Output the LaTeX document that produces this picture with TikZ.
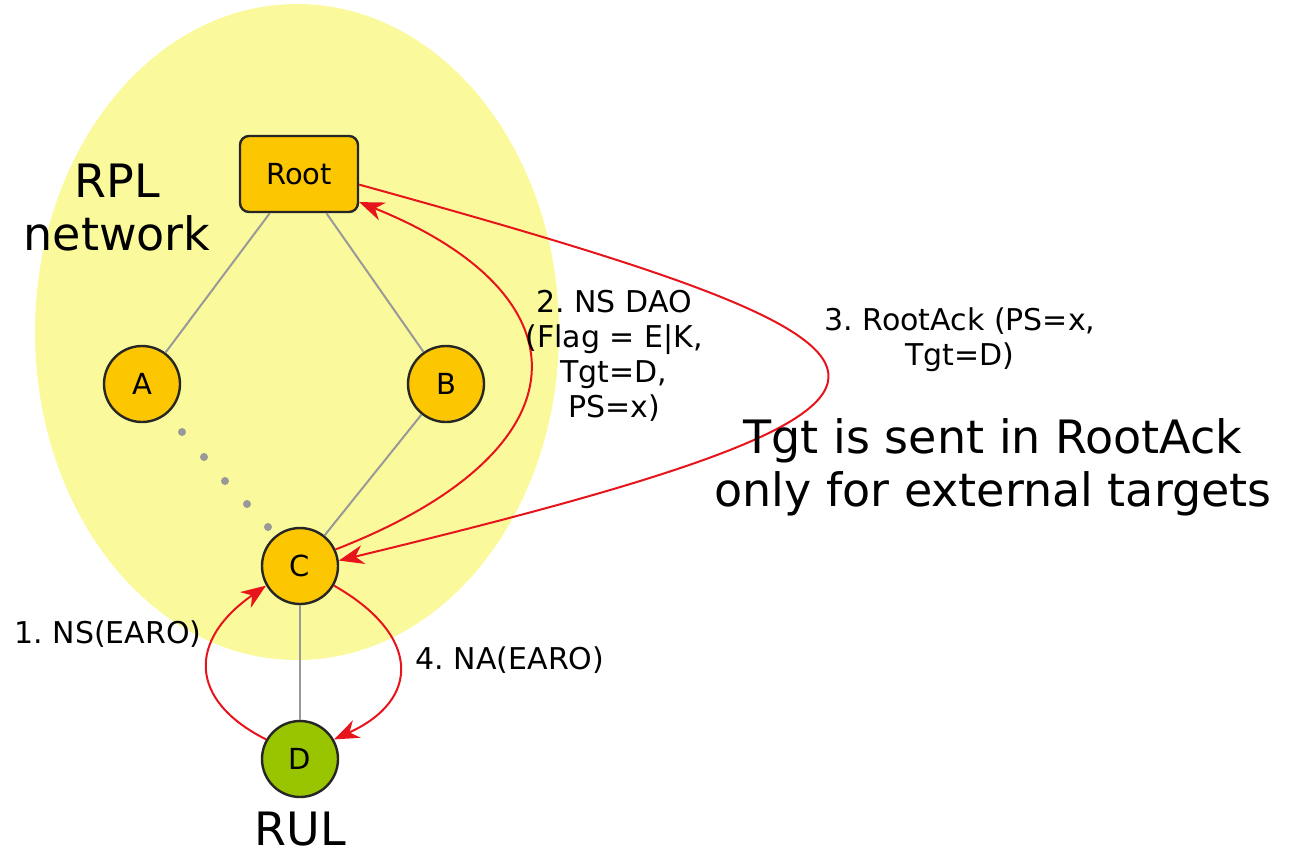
\documentclass[tikz,border=0pt]{standalone}
\usepackage{fontspec}
\setmainfont{DejaVu Sans}
\frenchspacing
\usetikzlibrary{arrows.meta}

\definecolor{netyellow}{HTML}{FAFA9C}
\definecolor{nodeorange}{HTML}{FCC700}
\definecolor{rulgreen}{HTML}{99C400}
\definecolor{msgred}{HTML}{E8141C}

\begin{document}
\begin{tikzpicture}[x=1pt,y=-1pt,thick,
    main node/.style={circle,draw=black!85,line width=2.4pt,fill=nodeorange,minimum size=76pt,inner sep=0pt,font=\fontsize{29}{34}\selectfont},
    root node/.style={rectangle,rounded corners=9pt,draw=black!85,line width=2.4pt,fill=nodeorange,minimum width=118pt,minimum height=76pt,font=\fontsize{29}{34}\selectfont},
    link/.style={draw=black!40,line width=2pt},
    msg/.style={draw=msgred,line width=2pt,-{Stealth[length=25pt,width=19pt,inset=8pt]}},
    lbl/.style={align=center,font=\fontsize{30}{35}\selectfont},
    big/.style={align=center,font=\fontsize{46}{53}\selectfont}]
    \useasboundingbox (0,0) rectangle (1301,855);

    % network area
    \fill[netyellow] (297,332) ellipse [x radius=262, y radius=328];

    \node[root node] (Root) at (299,174) {Root};
    \node[main node] (A) at (142,384) {A};
    \node[main node] (B) at (446,384) {B};
    \node[main node] (C) at (300,566) {C};
    \node[main node,fill=rulgreen] (D) at (300,759) {D};

    \path[link]
        (Root) edge (A)
        (Root) edge (B)
        (B) edge (C)
        (C) edge (D);
    % dotted path A ... C
    \foreach \dx/\dy in {182/432,204/457,225/481,247/504,268/527}
        \fill[black!40] (\dx,\dy) circle [radius=4pt];

    % messages
    \draw[msg] (D.150) .. controls (188,700) and (188,640) .. (C.210);
    \draw[msg] (C.25) .. controls (591,450) and (590,295) .. (Root.-25);
    \draw[msg] (Root.-10) .. controls (958,350) and (1013,398) .. (C.8);
    \draw[msg] (C.-30) .. controls (421,635) and (421,700) .. (D.30);

    \node[lbl] (ns) at (108,634) {1. NS(EARO)};
    \node[lbl] (dao) at (614,356) {2. NS DAO\\(Flag = E|K,\\Tgt=D,\\PS=x)};
    \node[lbl] (ack) at (960,340) {3. RootAck (PS=x,\\Tgt=D)};
    \node[lbl] (na) at (510,660) {4. NA(EARO)};

    \node[big] (rpl) at (117,208) {RPL\\network};
    \node[big,inner sep=0pt,anchor=base] (rul) at (300,845) {RUL};
    \node[big] (note) at (993,467) {Tgt is sent in RootAck\\only for external targets};
\end{tikzpicture}
\end{document}
